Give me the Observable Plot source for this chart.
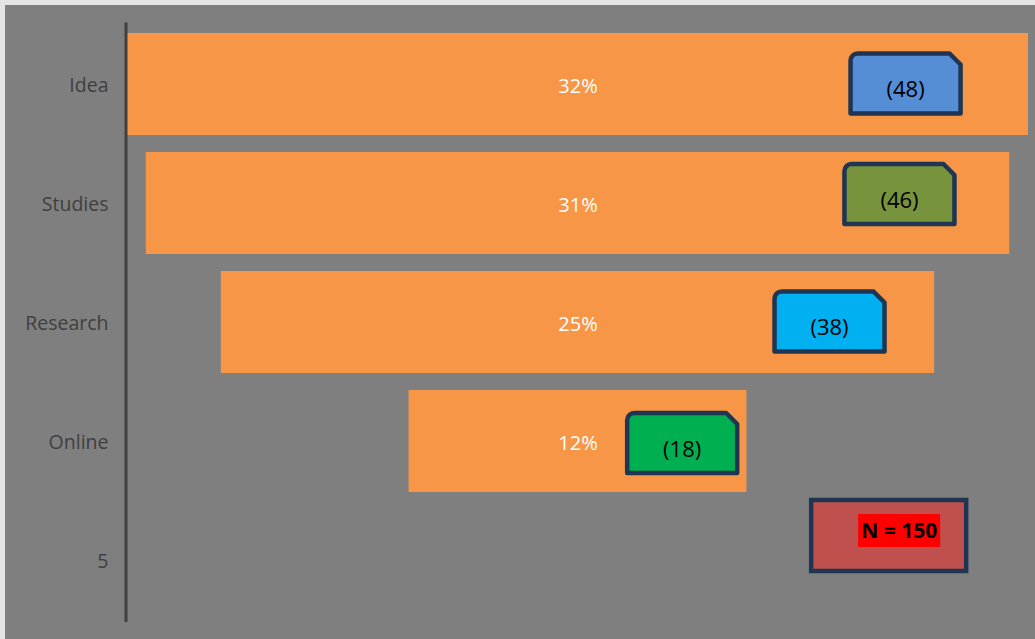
<!DOCTYPE html>
<html><head><meta charset="utf-8">
<script src="https://cdn.jsdelivr.net/npm/d3@7"></script>
<script src="https://cdn.jsdelivr.net/npm/@observablehq/plot@0.6"></script>
<style>
html,body{margin:0;padding:0;background:#fff;}
#chart svg{display:block;background:#7f7f7f;box-shadow:inset 5px 5px 0 #e4e4e4;}
</style></head><body><div id="chart"></div>
<script>
// ---- data ----
const stages = ["Idea", "Studies", "Research", "Online"];
const counts = [48, 46, 38, 18];
const percents = ["32%", "31%", "25%", "12%"];
const countLabels = ["(48)", "(46)", "(38)", "(18)"];
const calloutColors = ["#558ed5", "#77933c", "#00b0f0", "#00b050"];
const yTicks = ["Idea", "Studies", "Research", "Online", "5"];
const totalRow = "5";
const totalLabel = "N = 150";

// ---- layout (annotation placement, in x data units / px offsets) ----
const calloutX = [34.9, 34.25, 26.8, 11.1];
const calloutDy = [-1, -9.5, -1, 1.5];
const totalX = 33.1;

const rows = stages.map((s, i) => ({
  stage: s, count: counts[i], pct: percents[i], label: countLabels[i],
  color: calloutColors[i], cx: calloutX[i], dy: calloutDy[i]
}));

const calloutSymbol = {
  draw(ctx) {
    const w = 55, h = 30, r = 7, c = 11;
    ctx.moveTo(-w + r, -h);
    ctx.lineTo(w - c, -h);
    ctx.lineTo(w, -h + c);
    ctx.lineTo(w, h);
    ctx.lineTo(-w, h);
    ctx.lineTo(-w, -h + r);
    ctx.arcTo(-w, -h, -w + r, -h, r);
    ctx.closePath();
  }
};
const rectSymbol = (w, h) => ({
  draw(ctx) { ctx.rect(-w / 2, -h / 2, w, h); }
});

const font = "'Open Sans', sans-serif";

const chart = Plot.plot({
  width: 1035,
  height: 639,
  marginLeft: 127,
  marginRight: 7,
  marginTop: 22.5,
  marginBottom: 17,
  style: {fontFamily: font, background: "#7f7f7f"},
  x: {domain: [-48, 48], axis: null},
  y: {domain: yTicks, paddingInner: 0.142, paddingOuter: 0.07, axis: null},
  marks: [
    Plot.axisY({tickSize: 0, tickPadding: 19, fontSize: 19.5, color: "#404040", label: null, dy: 1}),
    Plot.barX(rows, {y: "stage", x1: d => -d.count, x2: d => d.count, fill: "#f79646"}),
    Plot.ruleX([-48], {stroke: "#404040", strokeWidth: 3, dx: -1.5}),
    Plot.text(rows, {x: 0, y: "stage", text: "pct", fill: "white", fontSize: 20, dy: 2}),
    ...rows.map(d => Plot.dot([d], {
      x: "cx", y: "stage", symbol: calloutSymbol, r: 10, dy: d.dy,
      fill: d.color, stroke: "#1f3552", strokeWidth: 4.5, strokeLinejoin: "round"
    })),
    ...rows.map(d => Plot.text([d], {
      x: "cx", y: "stage", text: "label", dy: d.dy + 6.5, fontSize: 22, fill: "black"
    })),
    Plot.dot([totalRow], {x: () => totalX, y: d => d, symbol: rectSymbol(155, 71), r: 10, dy: -25,
      fill: "#c0504d", stroke: "#1f3552", strokeWidth: 4.5}),
    Plot.dot([totalRow], {x: () => totalX, y: d => d, symbol: rectSymbol(82, 33), r: 10, dx: 10.5, dy: -30,
      fill: "#ff0000", stroke: "none"}),
    Plot.text([totalLabel], {x: () => totalX, y: () => totalRow, text: d => d, dx: 10.5, dy: -29,
      fontSize: 21, fontWeight: "bold", fill: "black"})
  ]
});
document.getElementById("chart").append(chart);
</script></body></html>
